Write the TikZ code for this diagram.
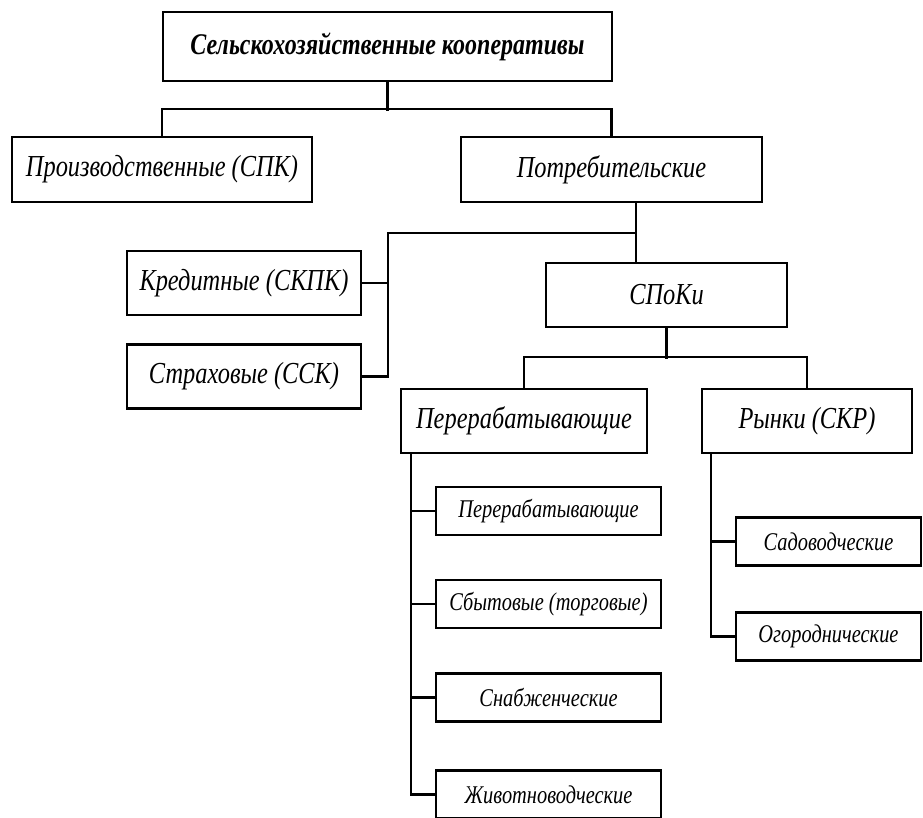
\documentclass[tikz,border=0pt]{standalone}
\usepackage{fontspec}
\setmainfont{Liberation Serif}[FakeStretch=0.8]
\usetikzlibrary{shapes.geometric, calc}

\begin{document}
\begin{tikzpicture}[node distance=100pt]
    \tikzstyle{titlebox} = [rectangle, minimum width=449pt, minimum height=69pt, text centered, draw=black, line width=2.2pt, font=\fontsize{30}{36}\selectfont\bfseries\itshape]
    \tikzstyle{kindbox} = [rectangle, minimum height=65pt, text centered, draw=black, line width=2.2pt, font=\fontsize{30.5}{36}\selectfont\itshape]
    \tikzstyle{subbox} = [rectangle, minimum height=48pt, text centered, draw=black, line width=2.2pt, font=\fontsize{25.5}{30}\selectfont\itshape]
    \tikzstyle{line} = [line width=2.4pt]
    \useasboundingbox (0,0) rectangle (923pt,-817pt);
    % Nodes
    \node (coop) [titlebox] at (387.5pt,-46.5pt) {Сельскохозяйственные кооперативы};
    \node (prod) [kindbox, minimum width=300pt, below of=coop, xshift=-225.5pt, yshift=-23pt] {Производственные (СПК)};
    \node (cons) [kindbox, minimum width=301pt, right of=prod, xshift=349.5pt] {Потребительские};
    \node (credit) [kindbox, minimum width=234pt, minimum height=64pt, below of=prod, xshift=82pt, yshift=-13.5pt] {Кредитные (СКПК)};
    \node (insur) [kindbox, minimum width=234pt, minimum height=64pt, below of=credit, yshift=6.5pt] {Страховые (ССК)};
    \node (spoki) [kindbox, minimum width=241pt, minimum height=64pt, below of=cons, xshift=55pt, yshift=-25.5pt] {СПоКи};
    \node (proc) [kindbox, minimum width=246pt, minimum height=64pt, below of=spoki, xshift=-142.5pt, yshift=-26pt] {Перерабатывающие};
    \node (market) [kindbox, minimum width=210pt, minimum height=64pt, right of=proc, xshift=183pt] {Рынки (СКР)};
    \node (sub1) [subbox, minimum width=225pt, below of=proc, xshift=24.5pt, yshift=10pt] {Перерабатывающие};
    \node (sub2) [subbox, minimum width=225pt, below of=sub1, yshift=7pt] {Сбытовые (торговые)};
    \node (sub3) [subbox, minimum width=225pt, below of=sub2, yshift=6.5pt] {Снабженческие};
    \node (sub4) [subbox, minimum width=225pt, below of=sub3, yshift=3pt] {Животноводческие};
    \node (garden) [subbox, minimum width=185pt, below of=market, xshift=21.5pt, yshift=-20.5pt] {Садоводческие};
    \node (veg) [subbox, minimum width=185pt, below of=garden, yshift=5pt] {Огороднические};
    % Lines
    \draw [line] (coop.south) -- ++(0,-29pt);
    \draw [line] (prod.north) -- ++(0,27pt) -| (cons.north);
    \coordinate (consdown) at ($(cons.south)+(24.5pt,0)$);
    \draw [line] (consdown) -- (consdown |- spoki.north);
    \draw [line] (credit.east) -- ++(26pt,0);
    \draw [line] (insur.east) -- ++(26pt,0) |- ($(consdown)+(0,-30pt)$);
    \draw [line] (spoki.south) -- ++(0,-31pt);
    \draw [line] (proc.north) -- ++(0,31pt) -| (market.north);
    \draw [line] ($(proc.south west)+(11pt,0)$) |- (sub4.west);
    \draw [line] (sub1.west) -- ++(-24pt,0);
    \draw [line] (sub2.west) -- ++(-24pt,0);
    \draw [line] (sub3.west) -- ++(-24pt,0);
    \draw [line] ($(market.south west)+(10pt,0)$) |- (veg.west);
    \draw [line] (garden.west) -- ++(-24pt,0);
\end{tikzpicture}
\end{document}
